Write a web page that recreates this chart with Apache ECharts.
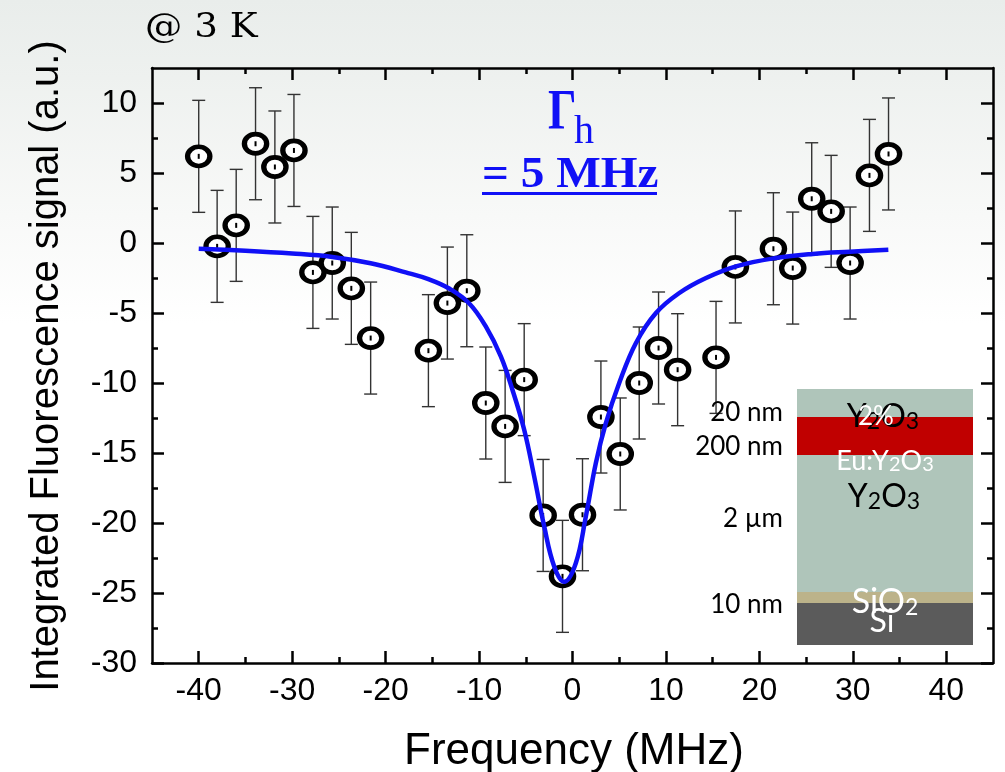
<!DOCTYPE html>
<html>
<head>
<meta charset="utf-8">
<script src="https://cdn.jsdelivr.net/npm/echarts@6/dist/echarts.min.js"></script>
<style>
  html, body { margin: 0; padding: 0; }
  #chart { width: 1005px; height: 772px; }
</style>
</head>
<body>
<div id="chart"></div>
<script>
// Spectral hole: integrated fluorescence vs. laser detuning at 3 K
const FREQ = [-40.0, -38.03, -35.99, -33.92, -31.85, -29.81, -27.78, -25.71, -23.67, -21.6,
              -15.42, -13.39, -11.31, -9.28, -7.21, -5.17, -3.14, -1.07, 1.07, 3.04,
              5.11, 7.14, 9.21, 11.25, 15.36, 17.43, 21.5, 23.57, 25.6, 27.68,
              29.71, 31.78, 33.82];
const SIGNAL = [6.19, -0.24, 1.26, 7.09, 5.43, 6.61, -2.1, -1.43, -3.24, -6.79,
                -7.69, -4.29, -3.41, -11.43, -13.1, -9.76, -19.46, -23.81, -19.41, -12.43,
                -15.07, -10.0, -7.5, -9.05, -8.17, -1.71, -0.41, -1.79, 3.16, 2.26,
                -1.43, 4.83, 6.36];
const ERROR = [4, 4, 4, 4, 4, 4, 4, 4, 4, 4,
               4, 4, 4, 4, 4, 4, 4, 4, 4, 4,
               4, 4, 4, 4, 4, 4, 4, 4, 4, 4,
               4, 4, 4];

// Lorentzian fit, sampled along the curve
const FIT_FREQ = [-40, -35, -30, -25.7, -21.6, -17.85, -15.35, -13.2, -11.07, -9.28,
                  -7.67, -6.43, -5.17, -4.1, -3.03, -1.96, -0.89, 0.36, 1.43, 2.5,
                  3.57, 5.0, 6.79, 8.93, 11.43, 14.29, 17.5, 21.5, 25.7, 29.7, 33.8];
const FIT_SIGNAL = [-0.41, -0.55, -0.75, -1.0, -1.45, -2.1, -2.6, -3.25, -4.3, -5.96,
                    -8.1, -10.48, -13.34, -16.67, -20.24, -23.1, -24.2, -22.86, -19.53, -15.71,
                    -12.86, -10.0, -7.14, -5.0, -3.57, -2.5, -1.67, -1.1, -0.78, -0.62, -0.48];

// Tick positions
const X_MAJOR = [-40, -30, -20, -10, 0, 10, 20, 30, 40];
const X_MINOR = [-35, -25, -15, -5, 5, 15, 25, 35];
const Y_MAJOR = [-30, -25, -20, -15, -10, -5, 0, 5, 10];
const Y_MINOR = [-27.5, -22.5, -17.5, -12.5, -7.5, -2.5, 2.5, 7.5];

const X_MIN = -45, X_MAX = 45, Y_MIN = -30, Y_MAX = 12.5;
const BLUE = '#1010f6';
const AXIS_W = 2.5;

function xAxis(position, ticks, len, labels, line) {
  return {
    type: 'value', position: position, min: X_MIN, max: X_MAX,
    axisLine: { show: line, onZero: false, lineStyle: { color: '#000', width: AXIS_W } },
    axisTick: { show: true, inside: true, length: len, customValues: ticks,
                lineStyle: { color: '#000', width: AXIS_W } },
    axisLabel: { show: labels, customValues: ticks, margin: 12, color: '#000',
                 fontFamily: 'Liberation Sans', fontSize: 32 },
    splitLine: { show: false }, minorTick: { show: false }
  };
}
function yAxis(position, ticks, len, labels, line) {
  return {
    type: 'value', position: position, min: Y_MIN, max: Y_MAX,
    axisLine: { show: line, onZero: false, lineStyle: { color: '#000', width: AXIS_W } },
    axisTick: { show: true, inside: true, length: len, customValues: ticks,
                lineStyle: { color: '#000', width: AXIS_W } },
    axisLabel: { show: labels, customValues: ticks, margin: 15, color: '#000',
                 fontFamily: 'Liberation Sans', fontSize: 32 },
    splitLine: { show: false }, minorTick: { show: false }
  };
}

// Rich text for chemical formulas with subscripts
function formula(parts, cx, cy, color, mainSize, subSize, mainLH, subLH) {
  const text = parts.map(p => (p.sub ? '{s|' : '{m|') + p.t + '}').join('');
  return {
    type: 'text', x: cx, y: cy, z: 20,
    style: {
      text: text, align: 'center', verticalAlign: 'middle', fill: color,
      rich: {
        m: { fontFamily: 'Lato', fontSize: mainSize, lineHeight: mainLH, verticalAlign: 'bottom', fill: color },
        s: { fontFamily: 'Lato', fontSize: subSize, lineHeight: subLH, verticalAlign: 'bottom', fill: color }
      }
    }
  };
}

const LAYER_X = 797, LAYER_W = 176;
const sideLabel = (t, y) => ({
  type: 'text', x: 783, y: y, z: 20,
  style: { text: t, fontFamily: 'Lato', fontSize: 26, fill: '#000', align: 'right', verticalAlign: 'middle' }
});

const chart = echarts.init(document.getElementById('chart'), null, { renderer: 'canvas' });
chart.setOption({
  animation: false,
  backgroundColor: {
    type: 'linear', x: 0, y: 0, x2: 0, y2: 1,
    colorStops: [
      { offset: 0, color: '#e9edeb' },
      { offset: 0.1, color: '#eef1ef' },
      { offset: 0.28, color: '#f8f9f8' },
      { offset: 0.42, color: '#ffffff' },
      { offset: 1, color: '#ffffff' }
    ]
  },
  grid: { left: 152, right: 12, top: 68, bottom: 109 },
  xAxis: [
    xAxis('bottom', X_MAJOR, 12, true, true),
    xAxis('bottom', X_MINOR, 6, false, false),
    xAxis('top', X_MAJOR, 12, false, true),
    xAxis('top', X_MINOR, 6, false, false)
  ],
  yAxis: [
    yAxis('left', Y_MAJOR, 12, true, true),
    yAxis('left', Y_MINOR, 6, false, false),
    yAxis('right', Y_MAJOR, 12, false, true),
    yAxis('right', Y_MINOR, 6, false, false)
  ],
  series: [
    {
      // error bars
      type: 'custom', xAxisIndex: 0, yAxisIndex: 0, z: 3, silent: true,
      data: FREQ.map((f, i) => [f, SIGNAL[i], ERROR[i]]),
      renderItem: function (params, api) {
        const x = api.value(0), y = api.value(1), e = api.value(2);
        const hi = api.coord([x, y + e]), lo = api.coord([x, y - e]);
        const c = 6.5;
        const st = { stroke: '#333', lineWidth: 1.4 };
        return {
          type: 'group', children: [
            { type: 'line', shape: { x1: hi[0], y1: hi[1], x2: lo[0], y2: lo[1] }, style: st },
            { type: 'line', shape: { x1: hi[0] - c, y1: hi[1], x2: hi[0] + c, y2: hi[1] }, style: st },
            { type: 'line', shape: { x1: lo[0] - c, y1: lo[1], x2: lo[0] + c, y2: lo[1] }, style: st }
          ]
        };
      }
    },
    {
      // ring markers with centre dot
      type: 'custom', xAxisIndex: 0, yAxisIndex: 0, z: 4, silent: true,
      data: FREQ.map((f, i) => [f, SIGNAL[i]]),
      renderItem: function (params, api) {
        const p = api.coord([api.value(0), api.value(1)]);
        return {
          type: 'group', children: [
            { type: 'circle', x: p[0], y: p[1], scaleX: 1.16, shape: { cx: 0, cy: 0, r: 9.6 },
              style: { fill: '#fff', stroke: '#000', lineWidth: 4.6 } },
            { type: 'rect', shape: { x: p[0] - 1, y: p[1] - 2.5, width: 2, height: 5 },
              style: { fill: '#000' } }
          ]
        };
      }
    },
    {
      type: 'line', xAxisIndex: 0, yAxisIndex: 0, z: 5, silent: true,
      data: FIT_FREQ.map((f, i) => [f, FIT_SIGNAL[i]]),
      smooth: 0.4, showSymbol: false, symbol: 'none',
      lineStyle: { color: BLUE, width: 4.5 }
    }
  ],
  graphic: {
    elements: [
      { type: 'text', x: 145, y: 28, scaleX: 1.13, z: 20,
        style: { text: '@ 3 K', fontFamily: 'DejaVu Serif', fontSize: 33, fill: '#000',
                 align: 'left', verticalAlign: 'middle' } },
      { type: 'text', x: 574, y: 752, z: 20,
        style: { text: 'Frequency (MHz)', fontFamily: 'Liberation Sans', fontSize: 44, fill: '#000',
                 align: 'center', verticalAlign: 'middle' } },
      { type: 'text', x: 47, y: 366, rotation: Math.PI / 2, z: 20,
        style: { text: 'Integrated Fluorescence signal (a.u.)', fontFamily: 'Liberation Sans', fontSize: 40,
                 fill: '#000', align: 'center', verticalAlign: 'middle' } },
      // linewidth annotation
      { type: 'text', x: 548, y: 115, scaleX: 0.8, z: 20,
        style: { text: 'Γ', fontFamily: 'Liberation Serif', fontWeight: 'bold', fontSize: 56, fill: BLUE,
                 align: 'left', verticalAlign: 'middle' } },
      { type: 'text', x: 574, y: 132, z: 20,
        style: { text: 'h', fontFamily: 'Liberation Serif', fontSize: 40, fill: BLUE,
                 align: 'left', verticalAlign: 'middle' } },
      { type: 'text', x: 482, y: 175, scaleX: 1.05, z: 20,
        style: { text: '= 5 MHz', fontFamily: 'Liberation Serif', fontWeight: 'bold', fontSize: 45, fill: BLUE,
                 align: 'left', verticalAlign: 'middle' } },
      { type: 'rect', z: 20, shape: { x: 482, y: 192, width: 175, height: 3 }, style: { fill: BLUE } },
      // sample layer stack
      { type: 'rect', z: 10, shape: { x: LAYER_X, y: 389, width: LAYER_W, height: 28 }, style: { fill: '#afc5ba' } },
      { type: 'rect', z: 10, shape: { x: LAYER_X, y: 417, width: LAYER_W, height: 38 }, style: { fill: '#c00000' } },
      { type: 'rect', z: 10, shape: { x: LAYER_X, y: 455, width: LAYER_W, height: 137 }, style: { fill: '#afc5ba' } },
      { type: 'rect', z: 10, shape: { x: LAYER_X, y: 592, width: LAYER_W, height: 11 }, style: { fill: '#bcb38a' } },
      { type: 'rect', z: 10, shape: { x: LAYER_X, y: 603, width: LAYER_W, height: 42 }, style: { fill: '#5b5b5b' } },
      sideLabel('20 nm', 413),
      sideLabel('200 nm', 447),
      sideLabel('2 µm', 519),
      sideLabel('10 nm', 605),
      formula([{ t: 'Y' }, { t: '2', sub: true }, { t: 'O' }, { t: '3', sub: true }], 883, 412, '#000', 32, 23, 42, 16),
      { type: 'text', x: 876, y: 417, z: 21,
        style: { text: '2%', fontFamily: 'Lato', fontSize: 26, fill: '#fff', align: 'center', verticalAlign: 'middle' } },
      formula([{ t: 'Eu:Y' }, { t: '2', sub: true }, { t: 'O' }, { t: '3', sub: true }], 885, 457, '#fff', 27, 20, 36, 12),
      formula([{ t: 'Y' }, { t: '2', sub: true }, { t: 'O' }, { t: '3', sub: true }], 884, 492, '#000', 32, 23, 42, 16),
      formula([{ t: 'SiO' }, { t: '2', sub: true }], 885, 597, '#fff', 34, 23, 44, 12),
      { type: 'text', x: 882, y: 622, z: 20,
        style: { text: 'Si', fontFamily: 'Lato', fontSize: 32, fill: '#fff', align: 'center', verticalAlign: 'middle' } }
    ]
  }
});
</script>
</body>
</html>
